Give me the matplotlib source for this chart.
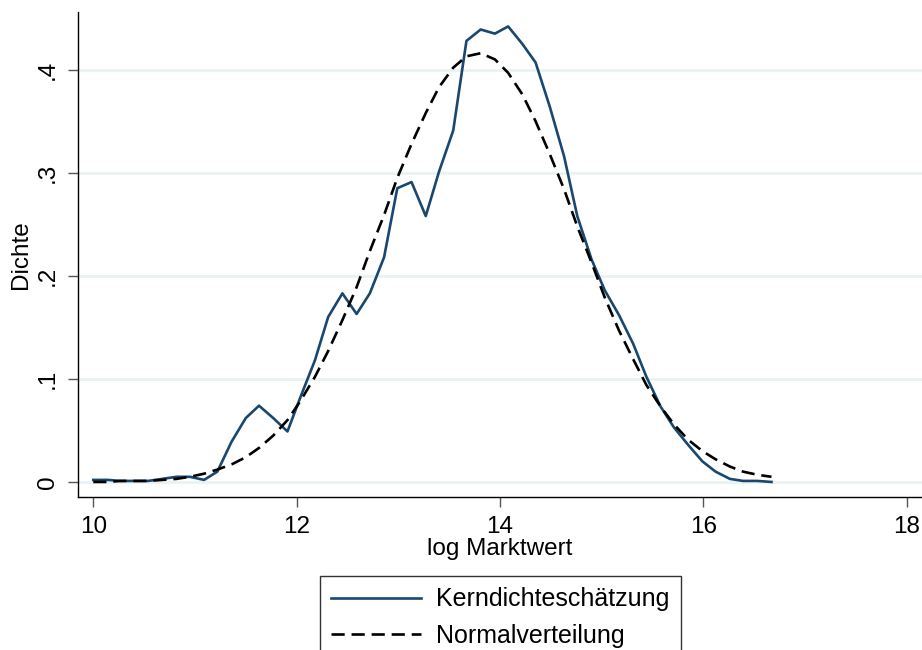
"""Kerndichte vs. Normalverteilung fuer log Marktwert (Stata-Stil)."""

import matplotlib
matplotlib.use("Agg")
import matplotlib.pyplot as plt
from matplotlib.ticker import FixedLocator, FixedFormatter

plt.rcParams["font.family"] = ["Liberation Sans", "DejaVu Sans"]

# Auswertungspunkte (50 Stuetzstellen, wie kdensity)
log_marktwert = [
    10.00, 10.14, 10.27, 10.41, 10.54, 10.68, 10.82, 10.95, 11.09, 11.22,
    11.36, 11.50, 11.63, 11.77, 11.91, 12.04, 12.18, 12.31, 12.45, 12.59,
    12.72, 12.86, 12.99, 13.13, 13.27, 13.40, 13.54, 13.67, 13.81, 13.95,
    14.08, 14.22, 14.35, 14.49, 14.63, 14.76, 14.90, 15.03, 15.17, 15.31,
    15.44, 15.58, 15.71, 15.85, 15.99, 16.12, 16.26, 16.39, 16.53, 16.67,
]
kerndichte = [
    0.002, 0.002, 0.001, 0.001, 0.001, 0.003, 0.005, 0.005, 0.002, 0.010,
    0.039, 0.062, 0.074, 0.062, 0.049, 0.083, 0.118, 0.160, 0.183, 0.163,
    0.183, 0.218, 0.285, 0.291, 0.258, 0.301, 0.341, 0.428, 0.439, 0.435,
    0.442, 0.425, 0.407, 0.364, 0.316, 0.258, 0.216, 0.186, 0.162, 0.134,
    0.102, 0.073, 0.053, 0.036, 0.020, 0.010, 0.003, 0.001, 0.001, 0.000,
]
normalverteilung = [
    0.000, 0.000, 0.001, 0.001, 0.001, 0.002, 0.003, 0.005, 0.008, 0.012,
    0.017, 0.024, 0.033, 0.045, 0.060, 0.079, 0.102, 0.127, 0.157, 0.189,
    0.224, 0.259, 0.295, 0.328, 0.358, 0.383, 0.402, 0.413, 0.416, 0.410,
    0.397, 0.376, 0.350, 0.318, 0.284, 0.248, 0.213, 0.179, 0.147, 0.119,
    0.094, 0.073, 0.056, 0.041, 0.030, 0.022, 0.015, 0.010, 0.007, 0.005,
]

x_ticks = [10, 12, 14, 16, 18]
y_ticks = [0.0, 0.1, 0.2, 0.3, 0.4]
y_tick_labels = ["0", ".1", ".2", ".3", ".4"]

STATA_BLUE = "#1a476f"
GRID_COLOR = "#eaf2f3"

fig = plt.figure(figsize=(9.22, 6.5), dpi=100)
ax = fig.add_axes([78 / 922, 153 / 650, 844 / 922, 485 / 650])

ax.plot(log_marktwert, kerndichte, color=STATA_BLUE, lw=1.9,
        label="Kerndichteschätzung", zorder=3)
ax.plot(log_marktwert, normalverteilung, color="black", lw=1.9,
        dashes=(5, 2.6), label="Normalverteilung", zorder=4)

ax.set_xlim(9.85, 18.15)
ax.set_ylim(-0.0146, 0.456)

ax.xaxis.set_major_locator(FixedLocator(x_ticks))
ax.yaxis.set_major_locator(FixedLocator(y_ticks))
ax.yaxis.set_major_formatter(FixedFormatter(y_tick_labels))
for lbl in ax.get_yticklabels():
    lbl.set_rotation(90)
    lbl.set_va("center")

ax.tick_params(axis="both", direction="out", length=7, width=1.0,
               color="#555555", labelsize=17.5, pad=7)
ax.tick_params(axis="y", pad=7)

ax.grid(axis="y", color=GRID_COLOR, lw=2.0, zorder=0)
ax.set_axisbelow(True)
for side in ["top", "right"]:
    ax.spines[side].set_visible(False)
for side in ["left", "bottom"]:
    ax.spines[side].set_color("black")
    ax.spines[side].set_linewidth(1.0)

ax.set_xlabel("log Marktwert", fontsize=17.5, labelpad=0)
ax.set_ylabel("Dichte", fontsize=17.5, labelpad=3)

handles, labels = ax.get_legend_handles_labels()
leg = fig.legend(
    handles, labels,
    loc="upper left",
    bbox_to_anchor=(320 / 922, 74 / 650),
    fontsize=18,
    frameon=True,
    fancybox=False,
    edgecolor="black",
    handlelength=3.6,
    handletextpad=0.6,
    borderpad=0.45,
    labelspacing=0.5,
    borderaxespad=0,
)
leg.get_frame().set_linewidth(1.0)

fig.savefig("out.png", dpi=100)
plt.close(fig)
